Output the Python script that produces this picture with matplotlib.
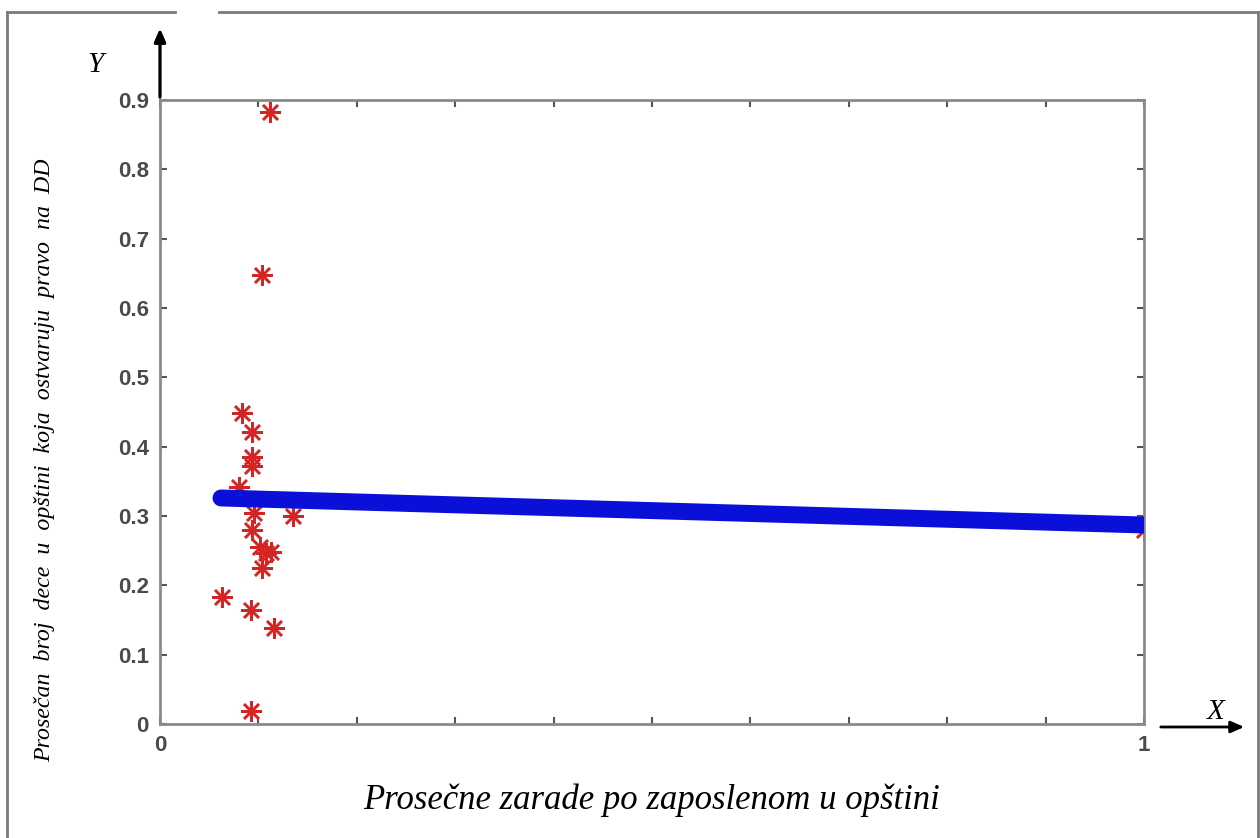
import matplotlib.pyplot as plt
from matplotlib.lines import Line2D

# red asterisks: observed municipalities
obs_x = [0.112, 0.104, 0.083, 0.094, 0.094, 0.094, 0.080, 0.096, 0.135, 0.094,
         0.102, 0.108, 0.113, 0.104, 0.063, 0.092, 0.116, 0.092, 1.000]
obs_y = [0.883, 0.648, 0.449, 0.421, 0.385, 0.372, 0.342, 0.304, 0.300, 0.280,
         0.255, 0.246, 0.248, 0.225, 0.183, 0.164, 0.139, 0.019, 0.280]

# blue fitted line (ends)
fit_x = [0.062, 1.0]
fit_y = [0.326, 0.287]

yticks = [0, 0.1, 0.2, 0.3, 0.4, 0.5, 0.6, 0.7, 0.8, 0.9]
ytick_labels = ["0", "0.1", "0.2", "0.3", "0.4", "0.5", "0.6", "0.7", "0.8", "0.9"]
xticks = [0, 0.1, 0.2, 0.3, 0.4, 0.5, 0.6, 0.7, 0.8, 0.9, 1.0]
xtick_labels = ["0", "", "", "", "", "", "", "", "", "", "1"]

xlabel = "Prosečne zarade po zaposlenom u opštini"
ylabel = "Prosečan  broj  dece  u  opštini  koja  ostvaruju  pravo  na  DD"

fig = plt.figure(figsize=(12.6, 8.38), dpi=100)
ax = fig.add_axes([160 / 1260, 1 - 724 / 838, 984 / 1260, 624 / 838])

ax.plot(fit_x, fit_y, color="#0a10d8", lw=12.2, solid_capstyle="round", zorder=3)
ax.plot(obs_x, obs_y, linestyle="none", marker=(8, 2, 0), markersize=15,
        markeredgecolor="#d42424", markeredgewidth=1.8, zorder=2)

ax.set_xlim(0, 1)
ax.set_ylim(0, 0.9)
ax.set_xticks(xticks)
ax.set_xticklabels(xtick_labels)
ax.set_yticks(yticks)
ax.set_yticklabels(ytick_labels)
ax.tick_params(direction="in", length=5, width=1.5, color="#555555",
               labelsize=16, labelcolor="#4a4a4a", top=True, right=True, pad=8)
for lab in ax.get_xticklabels() + ax.get_yticklabels():
    lab.set_family(["Liberation Sans", "DejaVu Sans"])
    lab.set_weight("bold")
for s in ax.spines.values():
    s.set_color("#8a8a8a")
    s.set_linewidth(2)

# axis titles
fig.text(652 / 1260, 1 - 800 / 838, xlabel, ha="center", va="center",
         family="Liberation Serif", style="italic", fontsize=25)
fig.text(45 / 1260, 1 - 460 / 838, ylabel, ha="center", va="center", rotation=90,
         family="Liberation Serif", style="italic", fontsize=17.2)

# axis arrows
fig.add_artist(plt.annotate("", xy=(160, 838 - 26), xytext=(160, 838 - 100),
                            xycoords="figure pixels", textcoords="figure pixels",
                            arrowprops=dict(arrowstyle="-|>,head_length=0.8,head_width=0.35",
                                            color="black", lw=2)))
ax.annotate("", xy=(1247, 838 - 727), xytext=(1158, 838 - 727),
            xycoords="figure pixels", textcoords="figure pixels",
            arrowprops=dict(arrowstyle="-|>,head_length=0.8,head_width=0.35",
                            color="black", lw=2), annotation_clip=False)
fig.text(95 / 1260, 1 - 65 / 838, "Y", ha="center", va="center",
         family="Liberation Serif", style="italic", fontsize=21)
fig.text(1216 / 1260, 1 - 712 / 838, "X", ha="center", va="center",
         family="Liberation Serif", style="italic", fontsize=21)

# outer frame
W, H = 1260, 838
frame = dict(color="#7a7a7a", lw=2, transform=fig.transFigure)
fig.add_artist(Line2D([7 / W, 7 / W], [0, 1 - 12 / H], **frame))
fig.add_artist(Line2D([7 / W, 175 / W], [1 - 12 / H, 1 - 12 / H], **frame))
fig.add_artist(Line2D([219 / W, 1258 / W], [1 - 12 / H, 1 - 12 / H], **frame))
fig.add_artist(Line2D([1258 / W, 1258 / W], [0, 1 - 12 / H], **frame))

plt.savefig("out.png", dpi=100)
